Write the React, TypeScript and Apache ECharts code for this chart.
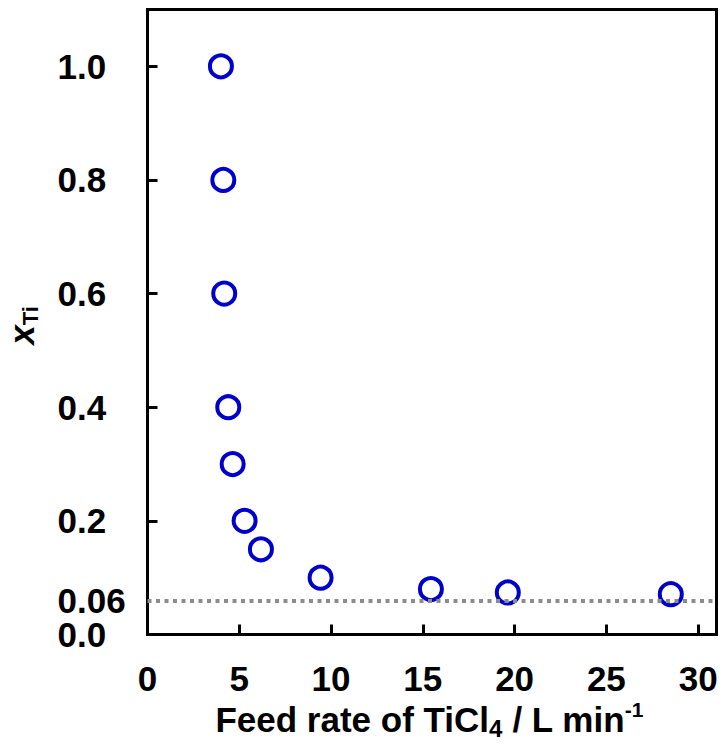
import React, { useEffect, useRef } from "react";
import * as echarts from "echarts";

const feedRate = [4.0, 4.13, 4.18, 4.4, 4.64, 5.29, 6.18, 9.43, 15.44, 19.63, 28.51];
const xTi = [1.0, 0.8, 0.6, 0.4, 0.3, 0.2, 0.15, 0.1, 0.08, 0.074, 0.071];
const yLabelValues = [0.06, 0.2, 0.4, 0.6, 0.8, 1.0];
const yZeroLabel = [0];
const yTickValues = [0.2, 0.4, 0.6, 0.8, 1.0];
const xLabelValues = [0, 5, 10, 15, 20, 25, 30];
const xTickValues = [5, 10, 15, 20, 25, 30];
const thresholdLine = 0.06;

const FONT = "'Liberation Sans', Arial, sans-serif";

const yLabelStyle = {
  align: "left",
  margin: 90,
  color: "#000",
  fontFamily: FONT,
  fontWeight: "bold",
  fontSize: 35,
  lineHeight: 27,
  hideOverlap: false,
  formatter: (v: number) => (Math.abs(v - 0.06) < 1e-9 ? "0.06" : v.toFixed(1)),
};

export default function App() {
  const ref = useRef<HTMLDivElement>(null);
  useEffect(() => {
    if (!ref.current) return;
    const chart = echarts.init(ref.current, null, { renderer: "svg" });
    const data = feedRate.map((x, i) => [x, xTi[i]]);
    chart.setOption({
      animation: false,
      backgroundColor: "#fff",
      grid: {
        left: 147.5,
        top: 9.5,
        width: 569,
        height: 625,
        show: true,
        borderColor: "#000",
        borderWidth: 3,
        backgroundColor: "transparent",
      },
      xAxis: {
        type: "value",
        min: 0,
        max: 31,
        interval: 5,
        splitLine: { show: false },
        axisLine: { show: true, lineStyle: { color: "#000", width: 3 } },
        axisTick: {
          show: true,
          inside: true,
          length: 10,
          customValues: xTickValues,
          lineStyle: { color: "#000", width: 3 },
        },
        axisLabel: {
          customValues: xLabelValues,
          margin: 26,
          color: "#000",
          fontFamily: FONT,
          fontWeight: "bold",
          fontSize: 35,
          hideOverlap: false,
        },
      },
      yAxis: [
        {
          type: "value",
          min: 0,
          max: 1.1,
          position: "left",
          splitLine: { show: false },
          axisLine: { show: true, lineStyle: { color: "#000", width: 3 } },
          axisTick: {
            show: true,
            inside: true,
            length: 10,
            customValues: yTickValues,
            lineStyle: { color: "#000", width: 3 },
          },
          axisLabel: { ...yLabelStyle, customValues: yLabelValues },
        },
        {
          type: "value",
          min: 0,
          max: 1.1,
          position: "left",
          offset: 0,
          splitLine: { show: false },
          axisLine: { show: false },
          axisTick: { show: false },
          axisLabel: { ...yLabelStyle, customValues: yZeroLabel },
        },
      ],
      graphic: [
        {
          type: "text",
          x: 429.5,
          y: 719.6,
          style: {
            text: "{a|Feed rate of TiCl}{s|4}{a| / L min}{p|-1}",
            align: "center",
            verticalAlign: "middle",
            textAlign: "center",
            textVerticalAlign: "middle",
            fill: "#000",
            rich: {
              a: { fontFamily: FONT, fontWeight: "bold", fontSize: 35, lineHeight: 42, fill: "#000", color: "#000" },
              s: { fontFamily: FONT, fontWeight: "bold", fontSize: 24, lineHeight: 20, verticalAlign: "bottom", fill: "#000", color: "#000" },
              p: { fontFamily: FONT, fontWeight: "bold", fontSize: 21, lineHeight: 30, verticalAlign: "top", fill: "#000", color: "#000" },
            },
          },
        },
        {
          type: "text",
          x: 21,
          y: 325.5,
          rotation: Math.PI / 2,
          style: {
            text: "{x|x}{s|Ti}",
            align: "center",
            verticalAlign: "middle",
            textAlign: "center",
            textVerticalAlign: "middle",
            fill: "#000",
            rich: {
              x: { fontFamily: FONT, fontWeight: "bold", fontStyle: "italic", fontSize: 35, lineHeight: 40, fill: "#000", color: "#000" },
              s: { fontFamily: FONT, fontWeight: "bold", fontSize: 22, lineHeight: 20, verticalAlign: "bottom", fill: "#000", color: "#000" },
            },
          },
        },
      ],
      series: [
        {
          type: "scatter",
          data,
          symbol: "circle",
          symbolSize: 22,
          itemStyle: { color: "rgba(255,255,255,0)", borderColor: "#0000CC", borderWidth: 4, opacity: 1 },
          z: 3,
          markLine: {
            silent: true,
            symbol: "none",
            label: { show: false },
            lineStyle: { color: "#8c8c8c", width: 4, type: [4, 4.5], opacity: 1 },
            data: [{ yAxis: thresholdLine }],
          },
        },
      ],
    });
    return () => chart.dispose();
  }, []);
  return <div ref={ref} style={{ width: 724, height: 746, position: "absolute", left: 0, top: 0 }} />;
}
